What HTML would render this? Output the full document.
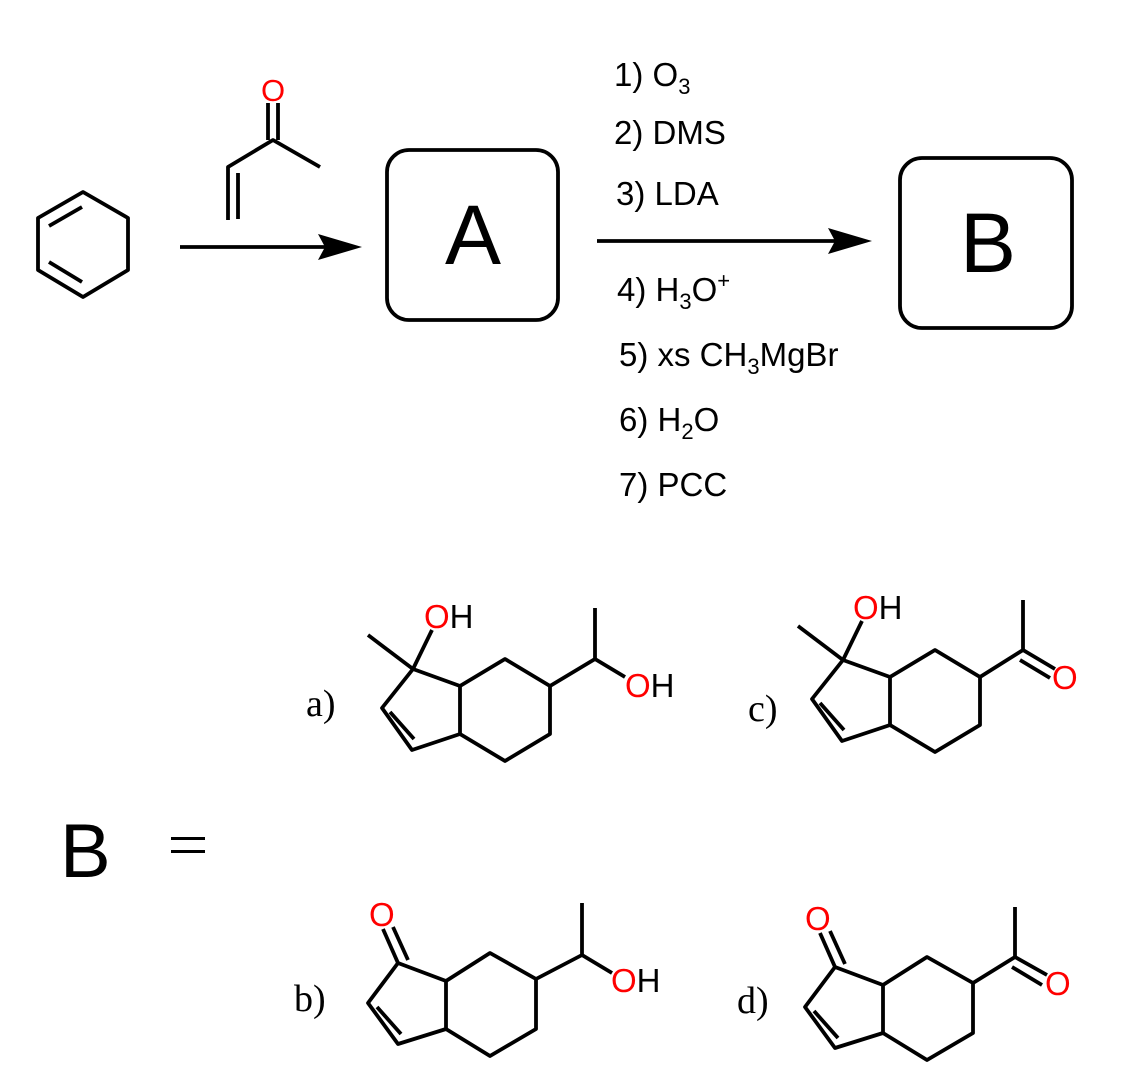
<!DOCTYPE html>
<html><head><meta charset="utf-8"><style>
html,body{margin:0;padding:0;background:#fff;}
svg{display:block;}
text{font-family:"Liberation Sans",Arial,sans-serif;}
.s{font-family:"Liberation Serif","Times New Roman",serif;}
</style></head><body>
<svg width="1121" height="1091" viewBox="0 0 1121 1091" xmlns="http://www.w3.org/2000/svg">
<g fill="none" stroke="#000" stroke-width="3.8" stroke-linejoin="round" stroke-linecap="butt">
<polygon points="83,192 128,218 128,270 83,297 38,270 38,218"/>
<line x1="49" y1="226" x2="82" y2="207"/>
<line x1="49" y1="262" x2="82" y2="282"/>
<polyline points="320,167 273,140 228,167 228,220"/>
<line x1="238" y1="173" x2="238" y2="219"/>
<line x1="268" y1="103" x2="268" y2="140"/>
<line x1="278" y1="103" x2="278" y2="140"/>
<line x1="180" y1="247" x2="325" y2="247"/>
<line x1="597" y1="241" x2="835" y2="241"/>
<rect x="387" y="150" width="171" height="170" rx="22"/>
<rect x="900" y="158" width="172" height="170" rx="22"/>
<polygon points="413,669 460,686 460,734 412,750 382,708"/>
<polyline points="460,686 505,659 550,686 550,734 505,761 460,734"/>
<line x1="390" y1="712" x2="414" y2="739"/>
<line x1="413" y1="669" x2="368" y2="635"/>
<line x1="413" y1="669" x2="432" y2="630"/>
<polyline points="550,686 595,659 595,608"/>
<line x1="595" y1="659" x2="625" y2="677"/>
<g transform="translate(430,-9)">
<polygon points="413,669 460,686 460,734 412,750 382,708"/>
<polyline points="460,686 505,659 550,686 550,734 505,761 460,734"/>
<line x1="390" y1="712" x2="414" y2="739"/>
<line x1="413" y1="669" x2="368" y2="635"/>
<line x1="413" y1="669" x2="432" y2="630"/>
</g>
<polyline points="980,677 1023,650 1023,600"/>
<line x1="1023" y1="650" x2="1055" y2="669"/>
<line x1="1020" y1="660" x2="1050" y2="678"/>
<polygon points="835,967 883,985 883,1033 835,1048 805,1007"/>
<polyline points="883,985 927,957 973,983 973,1033 927,1060 883,1033"/>
<line x1="814" y1="1011" x2="838" y2="1038"/>
<line x1="835" y1="967" x2="820" y2="933"/>
<line x1="845" y1="964" x2="830" y2="931"/>
<polyline points="973,983 1015,957 1015,907"/>
<line x1="1015" y1="957" x2="1047" y2="975"/>
<line x1="1012" y1="967" x2="1042" y2="985"/>
<g transform="translate(-437,-4)">
<polygon points="835,967 883,985 883,1033 835,1048 805,1007"/>
<polyline points="883,985 927,957 973,983 973,1033 927,1060 883,1033"/>
<line x1="814" y1="1011" x2="838" y2="1038"/>
<line x1="835" y1="967" x2="820" y2="933"/>
<line x1="845" y1="964" x2="830" y2="931"/>
</g>
<polyline points="536,979 582,955 582,903"/>
<line x1="582" y1="955" x2="612" y2="973"/>
</g>
<polygon points="362,247 318,234 325,247 318,260" fill="#000"/>
<polygon points="872,241 828,228 835,241 828,254" fill="#000"/>
<text x="273" y="101" font-size="31" fill="#f00" text-anchor="middle">O</text>
<text x="473" y="264" font-size="84" text-anchor="middle">A</text>
<text x="988" y="272" font-size="84" text-anchor="middle">B</text>
<g font-size="33">
<text x="614" y="86">1) O<tspan font-size="22" dy="8">3</tspan></text>
<text x="614" y="144">2) DMS</text>
<text x="616" y="205">3) LDA</text>
<text x="617" y="301">4) H<tspan font-size="22" dy="8">3</tspan><tspan dy="-8">O</tspan><tspan font-size="22" dy="-13">+</tspan></text>
<text x="619" y="366">5) xs CH<tspan font-size="22" dy="8">3</tspan><tspan dy="-8">MgBr</tspan></text>
<text x="619" y="431">6) H<tspan font-size="22" dy="8">2</tspan><tspan dy="-8">O</tspan></text>
<text x="619" y="496">7) PCC</text>
</g>
<g font-size="33">
<text x="424" y="628"><tspan fill="#f00">O</tspan>H</text>
<text x="625" y="697"><tspan fill="#f00">O</tspan>H</text>
<text x="853" y="619"><tspan fill="#f00">O</tspan>H</text>
<text x="1052" y="689" fill="#f00">O</text>
<text x="611" y="992"><tspan fill="#f00">O</tspan>H</text>
<text x="369" y="926" fill="#f00">O</text>
<text x="805" y="930" fill="#f00">O</text>
<text x="1045" y="995" fill="#f00">O</text>
</g>
<g font-size="38">
<text class="s" x="306" y="716">a)</text>
<text class="s" x="748" y="721">c)</text>
<text class="s" x="294" y="1011">b)</text>
<text class="s" x="737" y="1013">d)</text>
</g>
<text x="60" y="877" font-size="76">B</text>
<rect x="171" y="837" width="34" height="3" fill="#000"/>
<rect x="171" y="850" width="34" height="3" fill="#000"/>
</svg>
</body></html>
